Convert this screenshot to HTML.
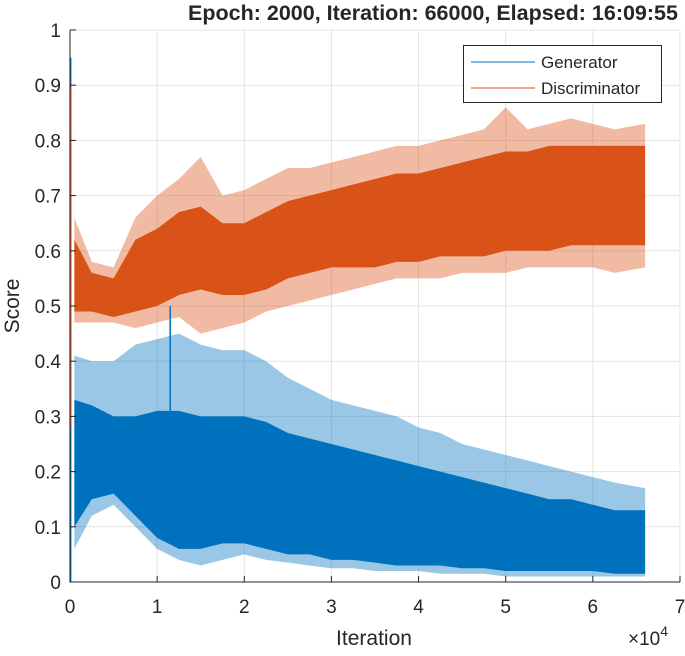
<!DOCTYPE html>
<html><head><meta charset="utf-8"><style>
body{margin:0;background:#fff;}
svg text{font-family:"Liberation Sans",sans-serif;fill:#262626;}
</style></head><body>
<svg id="chart" width="685" height="651" viewBox="0 0 685 651" xmlns="http://www.w3.org/2000/svg">
<text x="433" y="20" text-anchor="middle" font-size="21.5" font-weight="bold" fill="#000">Epoch: 2000, Iteration: 66000, Elapsed: 16:09:55</text>
<g id="grid"></g>
<g id="series"></g>
<g id="axes"></g>
<text transform="translate(19,306) rotate(-90)" text-anchor="middle" font-size="21">Score</text>
<text x="374" y="645" text-anchor="middle" font-size="21">Iteration</text>
<text x="628" y="645" font-size="19">×10<tspan dy="-9" font-size="14">4</tspan></text>
<g>
<rect x="463.5" y="45.5" width="198" height="57" fill="#fff" stroke="#262626" stroke-width="1"/>
<line x1="471" y1="62" x2="535" y2="62" stroke="#0072BD" stroke-width="1"/>
<text x="541" y="68" font-size="17">Generator</text>
<line x1="471" y1="88" x2="535" y2="88" stroke="#D95319" stroke-width="1"/>
<text x="541" y="94" font-size="17">Discriminator</text>
</g>
</svg>
<script>
const xs=[0.05,0.25,0.5,0.75,1.0,1.25,1.5,1.75,2.0,2.25,2.5,2.75,3.0,3.25,3.5,3.75,4.0,4.25,4.5,4.75,5.0,5.25,5.5,5.75,6.0,6.25,6.6];
const discUpper=[0.62,0.56,0.55,0.62,0.64,0.67,0.68,0.65,0.65,0.67,0.69,0.70,0.71,0.72,0.73,0.74,0.74,0.75,0.76,0.77,0.78,0.78,0.79,0.79,0.79,0.79,0.79];
const discLower=[0.49,0.49,0.48,0.49,0.50,0.52,0.53,0.52,0.52,0.53,0.55,0.56,0.57,0.57,0.57,0.58,0.58,0.59,0.59,0.59,0.60,0.60,0.60,0.61,0.61,0.61,0.61];
const discMax=[0.66,0.58,0.57,0.66,0.70,0.73,0.77,0.70,0.71,0.73,0.75,0.75,0.76,0.77,0.78,0.79,0.79,0.80,0.81,0.82,0.86,0.82,0.83,0.84,0.83,0.82,0.83];
const discMin=[0.47,0.47,0.47,0.46,0.47,0.48,0.45,0.46,0.47,0.49,0.50,0.51,0.52,0.53,0.54,0.55,0.55,0.55,0.56,0.56,0.56,0.57,0.57,0.57,0.57,0.56,0.57];
const genUpper=[0.33,0.32,0.30,0.30,0.31,0.31,0.30,0.30,0.30,0.29,0.27,0.26,0.25,0.24,0.23,0.22,0.21,0.20,0.19,0.18,0.17,0.16,0.15,0.15,0.14,0.13,0.13];
const genLower=[0.10,0.15,0.16,0.12,0.08,0.06,0.06,0.07,0.07,0.06,0.05,0.05,0.04,0.04,0.035,0.03,0.03,0.03,0.025,0.025,0.02,0.02,0.02,0.02,0.02,0.015,0.015];
const genMax=[0.41,0.40,0.40,0.43,0.44,0.45,0.43,0.42,0.42,0.40,0.37,0.35,0.33,0.32,0.31,0.30,0.28,0.27,0.25,0.24,0.23,0.22,0.21,0.20,0.19,0.18,0.17];
const genMin=[0.06,0.12,0.14,0.10,0.06,0.04,0.03,0.04,0.05,0.04,0.035,0.03,0.025,0.025,0.02,0.02,0.02,0.015,0.015,0.015,0.01,0.01,0.01,0.01,0.01,0.01,0.01];
const genStart=[0.95,0.0];
const discStart=[0.9,0.28];
const genSpikeX=[1.15];
const genSpikeY=[0.50];
const xTicks=[0,1,2,3,4,5,6,7];
const yTicks=[0,0.1,0.2,0.3,0.4,0.5,0.6,0.7,0.8,0.9,1];

const NS="http://www.w3.org/2000/svg";
const X=v=>70+v*87.14, Y=v=>582-v*552;
function mk(tag,attrs,parent){const e=document.createElementNS(NS,tag);for(const k in attrs)e.setAttribute(k,attrs[k]);parent.appendChild(e);return e;}
const grid=document.getElementById('grid'),axes=document.getElementById('axes'),series=document.getElementById('series');
xTicks.forEach(t=>{
  const g=mk('line',{x1:X(t),x2:X(t),y1:Y(0),y2:Y(1),stroke:'#e3e3e3','stroke-width':1},grid);
  
  
  const tk=mk('line',{x1:X(t),x2:X(t),y1:Y(0),y2:Y(0)-6,stroke:'#262626'},axes);
  
  
  const l=mk('text',{x:X(t),y:613,'text-anchor':'middle','font-size':19},axes);
  l.textContent=t;
  
  
});
yTicks.forEach(t=>{
  const g=mk('line',{x1:X(0),x2:X(7),y1:Y(t),y2:Y(t),stroke:'#e3e3e3','stroke-width':1},grid);
  
  
  const tk=mk('line',{x1:X(0),x2:X(0)+6,y1:Y(t),y2:Y(t),stroke:'#262626'},axes);
  
  
  const l=mk('text',{x:X(0)-9,y:Y(t)+7,'text-anchor':'end','font-size':19},axes);
  l.textContent=t;
  
  
});
const ax=mk('path',{d:`M${X(0)},${Y(1)}V${Y(0)}H${X(7)}`,fill:'none',stroke:'#262626','stroke-width':1},axes);



function band(up,lo){
  let d='M'+xs.map((x,i)=>X(x)+','+Y(up[i])).join('L');
  d+='L'+xs.slice().reverse().map((x,j)=>{const i=xs.length-1-j;return X(x)+','+Y(lo[i]);}).join('L')+'Z';
  return d;
}
function series1(name,color,up,lo,mx,mn,start){
  const g=mk('g',{},series);
  
  
  const outer=mk('path',{d:band(mx,mn),fill:color,'fill-opacity':0.4},g);
  
  
  const core=mk('path',{d:band(up,lo),fill:color},g);
  
  
  const s=mk('line',{x1:X(0.005),x2:X(0.005),y1:Y(start[0]),y2:Y(start[1]),stroke:color,'stroke-width':2},g);
  
  
  return g;
}
series1('generator-series','#0072BD',genUpper,genLower,genMax,genMin,genStart);
series1('discriminator-series','#D95319',discUpper,discLower,discMax,discMin,discStart);
genSpikeX.forEach((x,i)=>{
  const l=mk('line',{x1:X(x),x2:X(x),y1:Y(genUpper[5]),y2:Y(genSpikeY[i]),stroke:'#0072BD','stroke-width':1.5},series);
  
  
});
</script>
</body></html>
